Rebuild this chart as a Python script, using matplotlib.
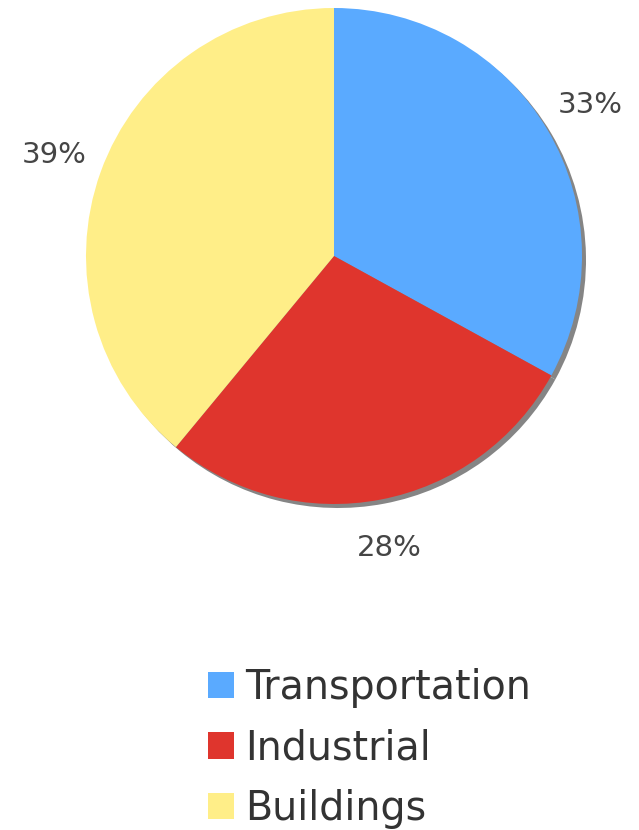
import matplotlib.pyplot as plt
from matplotlib.patches import Patch

labels = ["Transportation", "Industrial", "Buildings"]
shares = [33, 28, 39]
colors = ["#5aaaff", "#df352d", "#ffee88"]

W, H = 639, 830
CX, CY, R = 334, H - 256, 248

fig = plt.figure(figsize=(W / 100, H / 100), dpi=100)
ax = fig.add_axes([0, 0, 1, 1])

# drop shadow: same pie in gray, nudged right/down
ax.pie(shares, colors=["#858585"] * 3, startangle=90, counterclock=False,
       center=(CX + 4, CY - 4), radius=R, frame=True)

wedges, _, autotexts = ax.pie(
    shares, colors=colors, startangle=90, counterclock=False,
    center=(CX, CY), radius=R, frame=True,
    autopct="%d%%", pctdistance=1.2,
    textprops=dict(fontsize=21, color="#454545"),
)
ax.set_xlim(0, W)
ax.set_ylim(0, H)
ax.set_aspect("equal")
ax.axis("off")

handles = [Patch(facecolor=c, edgecolor="none") for c in colors]
ax.legend(handles, labels, loc="upper left", bbox_to_anchor=(188 / W, 1 - 648 / H),
          frameon=False, fontsize=28.5, handlelength=0.65, handleheight=0.65,
          handletextpad=0.3, labelspacing=0.52, borderpad=0, labelcolor="#333333")

fig.savefig("out.png", dpi=100, facecolor="white")
